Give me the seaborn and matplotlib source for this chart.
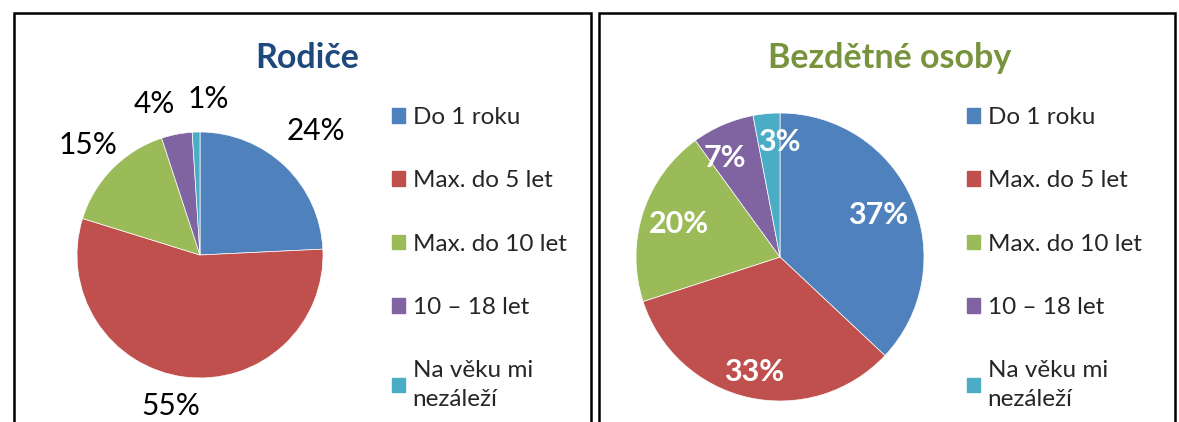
import matplotlib
matplotlib.use("Agg")
import numpy as np
import matplotlib.pyplot as plt
import seaborn as sns
from matplotlib.patches import Rectangle, Patch

categories = ["Do 1 roku", "Max. do 5 let", "Max. do 10 let", "10 – 18 let", "Na věku mi\nnezáleží"]
rodice = [24, 55, 15, 4, 1]
bezdetne = [37, 33, 20, 7, 3]
titles = ["Rodiče", "Bezdětné osoby"]
title_colors = ["#1F497D", "#77933C"]

sns.set_style("white")
plt.rcParams["font.family"] = ["Lato", "DejaVu Sans"]
palette = sns.color_palette(["#4F81BD", "#C0504D", "#9BBB59", "#8064A2", "#4BACC6"])

W, H = 1179, 422
fig = plt.figure(figsize=(W / 100, H / 100), dpi=100)


def fx(px):
    return px / W


def fy(py):
    return 1 - py / H


def polar(deg, dist):
    a = np.deg2rad(deg)
    return dist * np.cos(a), dist * np.sin(a)


# panel borders
for x0, x1 in [(14, 591), (599, 1175)]:
    fig.patches.append(Rectangle((fx(x0), fy(440)), fx(x1 - x0), (440 - 13) / H,
                                 transform=fig.transFigure, fill=False,
                                 edgecolor="black", linewidth=1.8, clip_on=False))


def draw_pie(cx, cy, r, values, inside):
    ax = fig.add_axes([fx(cx - r), fy(cy + r), fx(2 * r), 2 * r / H])
    if inside:
        wedges, texts, autotexts = ax.pie(values, colors=palette, startangle=90, counterclock=False,
                                          autopct=lambda p: f"{p:.0f}%", pctdistance=0.74,
                                          wedgeprops=dict(linewidth=0.5, edgecolor="white"),
                                          textprops=dict(color="white", fontsize=22, fontweight="bold"))
        # best-fit style nudges for the two small slices
        autotexts[3].set_position(polar(119, 0.79))
        autotexts[4].set_position(polar(90.5, 0.8))
        autotexts[1].set_position(polar(-102.6, 0.82))
    else:
        wedges, texts, autotexts = ax.pie(values, colors=palette, startangle=90, counterclock=False,
                                          autopct=lambda p: f"{p * sum(values) / 100:.0f}%", pctdistance=1.28,
                                          wedgeprops=dict(linewidth=0.5, edgecolor="white"),
                                          textprops=dict(color="black", fontsize=21.5))
        autotexts[0].set_position(polar(47, 1.38))
        autotexts[1].set_position(polar(-101, 1.25))
        autotexts[3].set_position(polar(107, 1.28))
        autotexts[4].set_position(polar(87, 1.27))
    for t in autotexts:
        t.set_clip_on(False)
    ax.set_xlim(-1, 1)
    ax.set_ylim(-1, 1)
    ax.set_aspect("equal")
    ax.axis("off")
    return ax


draw_pie(200, 255, 123, rodice, inside=False)
draw_pie(780, 257, 144, bezdetne, inside=True)

fig.text(fx(307), fy(58), titles[0], color=title_colors[0], fontsize=24.5, fontweight="bold",
         ha="center", va="center")
fig.text(fx(890), fy(58), titles[1], color=title_colors[1], fontsize=24.5, fontweight="bold",
         ha="center", va="center")

handles = [Patch(facecolor=c, edgecolor=c) for c in palette]
for lx in [392, 967]:
    leg = fig.legend(handles, categories, loc="upper left", bbox_to_anchor=(fx(lx), fy(107)),
                     frameon=False, fontsize=17.5, labelspacing=1.74, handlelength=0.55,
                     handleheight=0.55, handletextpad=0.3, borderaxespad=0, borderpad=0)
    leg.get_texts()[-1].set_linespacing(1.45)

fig.savefig("out.png", dpi=100)
